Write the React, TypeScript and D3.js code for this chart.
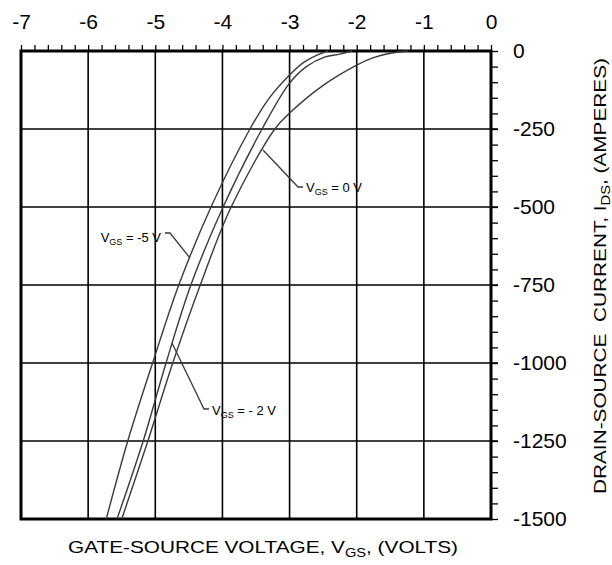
import React, { useEffect, useRef } from "react";
import * as d3 from "d3";

const W = 612;
const H = 565;

const xMajorTicks = [-7, -6, -5, -4, -3, -2, -1, 0];
const yMajorTicks = [0, -250, -500, -750, -1000, -1250, -1500];

// Curves: [VGS(V) on x axis, IDS (A)]
const curveVgsMinus5: [number, number][] = [
  [-2.43, 0], [-2.59, -13], [-2.8, -38], [-3.0, -77], [-3.3, -150], [-3.59, -250],
  [-4.17, -500], [-4.65, -750], [-5.04, -1000], [-5.41, -1250], [-5.73, -1500],
];
const curveVgsMinus2: [number, number][] = [
  [-2.07, 0], [-2.25, -10], [-2.47, -19], [-2.75, -50], [-3.0, -103], [-3.41, -250],
  [-3.99, -500], [-4.47, -750], [-4.84, -1000], [-5.18, -1250], [-5.57, -1500],
];
const curveVgs0: [number, number][] = [
  [-1.24, 0], [-1.52, -8], [-1.76, -22], [-2.0, -45], [-2.5, -110], [-3.0, -199], [-3.22, -250],
  [-3.87, -500], [-4.33, -750], [-4.74, -1000], [-5.11, -1250], [-5.5, -1500],
];

export default function App() {
  const ref = useRef<SVGSVGElement>(null);

  useEffect(() => {
    const svg = d3.select(ref.current);
    svg.selectAll("*").remove();

    const x = d3.scaleLinear().domain([-7, 0]).range([21, 491]);
    const y = d3.scaleLinear().domain([0, -1500]).range([51, 519]);
    const font = "Liberation Sans, Arial, sans-serif";

    // grid
    const g = svg.append("g");
    g.selectAll("line.vx")
      .data(xMajorTicks.slice(1, -1))
      .enter()
      .append("line")
      .attr("x1", (d) => x(d))
      .attr("x2", (d) => x(d))
      .attr("y1", y(0))
      .attr("y2", y(-1500))
      .attr("stroke", "#000")
      .attr("stroke-width", 1.6);
    g.selectAll("line.hy")
      .data(yMajorTicks.slice(1, -1))
      .enter()
      .append("line")
      .attr("x1", x(-7))
      .attr("x2", x(0) + 7)
      .attr("y1", (d) => y(d))
      .attr("y2", (d) => y(d))
      .attr("stroke", "#000")
      .attr("stroke-width", 1.6);

    // minor ticks top
    const topMinor = d3
      .axisTop(x)
      .tickValues(d3.range(-7, 0.0001, 0.2))
      .tickSize(6)
      .tickSizeOuter(0)
      .tickFormat(() => "");
    const tm = svg.append("g").attr("transform", `translate(0,${y(0)})`).call(topMinor);
    tm.select(".domain").remove();
    tm.selectAll("line").attr("stroke", "#000").attr("stroke-width", 1.3);

    const topMajor = d3
      .axisTop(x)
      .tickValues(xMajorTicks)
      .tickSize(0)
      .tickPadding(22)
      .tickFormat((d) => `${d}`);
    const tM = svg.append("g").attr("transform", `translate(0,${y(0)})`).call(topMajor);
    tM.select(".domain").remove();
    tM.selectAll("text").attr("font-family", font).attr("font-size", 21).attr("fill", "#000");

    // right axis
    const rightMinor = d3
      .axisRight(y)
      .tickValues(d3.range(0, -1500.001, -50))
      .tickSize(7)
      .tickSizeOuter(0)
      .tickFormat(() => "");
    const rm = svg.append("g").attr("transform", `translate(${x(0)},0)`).call(rightMinor);
    rm.select(".domain").remove();
    rm.selectAll("line").attr("stroke", "#000").attr("stroke-width", 1.3);

    const rightMajor = d3
      .axisRight(y)
      .tickValues(yMajorTicks)
      .tickSize(0)
      .tickPadding(22)
      .tickFormat((d) => `${d}`);
    const rM = svg.append("g").attr("transform", `translate(${x(0)},0)`).call(rightMajor);
    rM.select(".domain").remove();
    rM.selectAll("text").attr("font-family", font).attr("font-size", 21).attr("fill", "#000");

    // frame
    svg
      .append("rect")
      .attr("x", x(-7))
      .attr("y", y(0))
      .attr("width", x(0) - x(-7))
      .attr("height", y(-1500) - y(0))
      .attr("fill", "none")
      .attr("stroke", "#000")
      .attr("stroke-width", 3);

    // curves
    const line = d3
      .line<[number, number]>()
      .x((d) => x(d[0]))
      .y((d) => y(d[1]))
      .curve(d3.curveCatmullRom.alpha(0.5));
    [curveVgsMinus5, curveVgsMinus2, curveVgs0].forEach((c) => {
      svg
        .append("path")
        .attr("d", line(c) as string)
        .attr("fill", "none")
        .attr("stroke", "#3a3a3a")
        .attr("stroke-width", 1.4);
    });

    // leaders
    const leaders: [number, number][][] = [
      [[165, 233], [170, 233], [190, 258]],
      [[263, 150], [298, 187], [303, 187]],
      [[172, 343], [204, 409], [209, 409]],
    ];
    leaders.forEach((pts) => {
      svg
        .append("path")
        .attr("d", d3.line()(pts) as string)
        .attr("fill", "none")
        .attr("stroke", "#3a3a3a")
        .attr("stroke-width", 1.3);
    });

    const label = (tx: number, ty: number, anchor: string, rest: string) => {
      const t = svg
        .append("text")
        .attr("x", tx)
        .attr("y", ty)
        .attr("text-anchor", anchor)
        .attr("font-family", font)
        .attr("font-size", 13)
        .attr("fill", "#000");
      t.append("tspan").text("V");
      t.append("tspan").attr("font-size", 9).attr("dy", 3).text("GS");
      t.append("tspan").attr("dy", -3).text(rest);
    };
    label(161, 242, "end", " = -5 V");
    label(306, 192, "start", " = 0 V");
    label(212, 415, "start", " = - 2 V");

    // bottom title
    const bt = svg
      .append("text")
      .attr("x", 68)
      .attr("y", 553)
      .attr("font-family", font)
      .attr("font-size", 17)
      .attr("textLength", 390)
      .attr("lengthAdjust", "spacingAndGlyphs")
      .attr("fill", "#000");
    bt.append("tspan").text("GATE-SOURCE VOLTAGE, V");
    bt.append("tspan").attr("font-size", 12).attr("dy", 4).text("GS");
    bt.append("tspan").attr("dy", -4).text(", (VOLTS)");

    // right title
    const rt = svg
      .append("text")
      .attr("transform", `translate(606,494) rotate(-90)`)
      .attr("font-family", font)
      .attr("font-size", 17)
      .attr("textLength", 436)
      .attr("lengthAdjust", "spacingAndGlyphs")
      .attr("fill", "#000")
      .style("white-space", "pre");
    rt.append("tspan").text("DRAIN-SOURCE  CURRENT, I");
    rt.append("tspan").attr("font-size", 12).attr("dy", 4).text("DS");
    rt.append("tspan").attr("dy", -4).text(", (AMPERES)");
  }, []);

  return (
    <svg
      ref={ref}
      width={W}
      height={H}
      style={{ position: "absolute", left: 0, top: 0, background: "#fff" }}
    />
  );
}
